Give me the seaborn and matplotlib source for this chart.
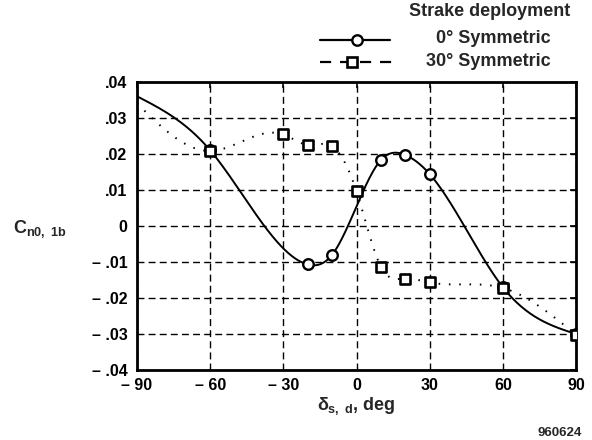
import numpy as np
import pandas as pd
import matplotlib
matplotlib.use("Agg")
import matplotlib.pyplot as plt
from matplotlib.lines import Line2D
import seaborn as sns

sns.set_style("white")
plt.rcParams.update({'font.family': ['Liberation Sans', 'DejaVu Sans'],
                     'font.weight': 'bold', 'axes.labelweight': 'bold',
                     'mathtext.fontset': 'custom',
                     'mathtext.rm': 'Liberation Sans:bold', 'mathtext.it': 'Liberation Sans:bold',
                     'mathtext.bf': 'Liberation Sans:bold'})

# ---- data ----
x_sym0 = [-90, -60, -20, -10, 10, 20, 30, 60, 90]
y_sym0 = [0.036, 0.021, -0.0107, -0.0080, 0.0183, 0.0197, 0.0144, -0.0170, -0.0300]
x_sym30 = [-90, -60, -30, -20, -10, 0, 10, 20, 30, 60, 90]
y_sym30 = [0.034, 0.0208, 0.0254, 0.0225, 0.0221, 0.0096, -0.0113, -0.0146, -0.0157, -0.0172, -0.0302]
x_ticks = [-90, -60, -30, 0, 30, 60, 90]
x_ticklabels = ['\u2013 90', '\u2013 60', '\u2013 30', '0', '30', '60', '90']
y_ticks = [-0.04, -0.03, -0.02, -0.01, 0, 0.01, 0.02, 0.03, 0.04]
y_ticklabels = ['\u2013 .04', '\u2013 .03', '\u2013 .02', '\u2013 .01', '0', '.01', '.02', '.03', '.04']


def spline(x, y, n=400):
    # natural cubic spline, only used to draw the faired curve through the points
    x = np.asarray(x, float); y = np.asarray(y, float)
    k = len(x); h = np.diff(x)
    A = np.zeros((k, k)); b = np.zeros(k)
    A[0, 0] = A[-1, -1] = 1
    for i in range(1, k - 1):
        A[i, i - 1] = h[i - 1]; A[i, i] = 2 * (h[i - 1] + h[i]); A[i, i + 1] = h[i]
        b[i] = 6 * ((y[i + 1] - y[i]) / h[i] - (y[i] - y[i - 1]) / h[i - 1])
    M = np.linalg.solve(A, b)
    xs = np.linspace(x[0], x[-1], n)
    j = np.clip(np.searchsorted(x, xs) - 1, 0, k - 2)
    t0 = x[j + 1] - xs; t1 = xs - x[j]
    ys = (M[j] * t0**3 + M[j + 1] * t1**3) / (6 * h[j]) \
        + (y[j] / h[j] - M[j] * h[j] / 6) * t0 + (y[j + 1] / h[j] - M[j + 1] * h[j] / 6) * t1
    return pd.DataFrame({'x': xs, 'y': ys})


fig = plt.figure(figsize=(5.92, 4.40), dpi=100)
ax = fig.add_axes([0.2314, 0.159, 0.7416, 0.655])

c0 = spline(x_sym0, y_sym0)
c30 = spline(x_sym30, y_sym30)
sns.lineplot(data=c0, x='x', y='y', ax=ax, color='black', lw=1.4, sort=False, zorder=3)
sns.lineplot(data=c30, x='x', y='y', ax=ax, color='black', lw=1.4, sort=False, zorder=3,
             linestyle=(0, (0.8, 4.5)))

m0 = pd.DataFrame({'x': x_sym0[1:], 'y': y_sym0[1:]})
m30 = pd.DataFrame({'x': x_sym30[1:], 'y': y_sym30[1:]})
sns.scatterplot(data=m0, x='x', y='y', ax=ax, marker='o', s=58, facecolor='white',
                edgecolor='black', linewidth=1.7, zorder=4)
sns.scatterplot(data=m30, x='x', y='y', ax=ax, marker='s', s=62, facecolor='white',
                edgecolor='black', linewidth=1.9, zorder=5)

ax.set_xlim(-90, 90)
ax.set_ylim(-0.04, 0.04)
ax.set_xticks(x_ticks)
ax.set_xticklabels(x_ticklabels)
ax.set_yticks(y_ticks)
ax.set_yticklabels(y_ticklabels)
ax.tick_params(direction='in', length=4, width=1.2, labelsize=11.5, colors='black',
               top=True, right=True)
ax.tick_params(axis='x', pad=6)
ax.tick_params(axis='y', pad=7)
ax.grid(True, color='black', linestyle=(0, (5, 3)), lw=1.0)
for s in ax.spines.values():
    s.set_linewidth(2)
    s.set_color('black')
ax.set_xlabel(r'$\delta_{s,\ d}$, deg', fontsize=13, labelpad=1)
ax.set_ylabel(r'C$_{n0,\ 1b}$', fontsize=13, rotation=0, ha='left', va='center')
ax.yaxis.set_label_coords(-0.283, 0.49)

# legend drawn in figure coordinates
W, H = 592, 440
fig.text(570 / W, 1 - 12 / H, 'Strake deployment', ha='right', va='center', fontsize=13)
fig.text(551 / W, 1 - 38 / H, '0\u00b0 Symmetric', ha='right', va='center', fontsize=13)
fig.text(551 / W, 1 - 61 / H, '30\u00b0 Symmetric', ha='right', va='center', fontsize=13)
fig.add_artist(Line2D([320 / W, 390 / W], [1 - 40 / H] * 2, color='black', lw=1.6))
fig.add_artist(Line2D([357 / W], [1 - 40 / H], marker='o', ms=7.5, mfc='white', mec='black', mew=1.7))
fig.add_artist(Line2D([320 / W, 392 / W], [1 - 62 / H] * 2, color='black', lw=1.6,
                      linestyle=(0, (5, 4))))
fig.add_artist(Line2D([352 / W], [1 - 62 / H], marker='s', ms=7.5, mfc='white', mec='black', mew=1.9))
fig.text(582 / W, 1 - 433 / H, '960624', ha='right', va='center', fontsize=9.5)

fig.savefig('out.png', dpi=100)
